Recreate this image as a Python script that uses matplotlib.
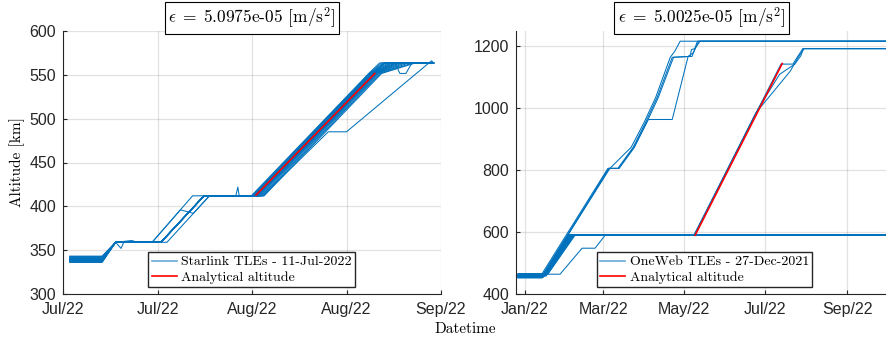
# plot.py: Starlink / OneWeb altitude history vs analytical altitude
from datetime import datetime, timedelta
import matplotlib.pyplot as plt
import matplotlib.dates as mdates
from matplotlib.lines import Line2D

plt.rcParams['mathtext.fontset'] = 'cm'

# ---------------- Starlink (days since 11-Jul-2022, altitude km) ----------------
sl_t0 = datetime(2022, 7, 11)
sl_eps = '5.0975e-05'
sl_label = 'Starlink TLEs - 11-Jul-2022'

# main group: common early path, then climb from 412 km
sl_alt0 = [336, 337, 337, 338, 338, 339, 339, 340, 340, 341, 341, 342, 343, 337, 339, 341]
sl_climb_day = [27.9, 28.0, 28.1, 28.2, 28.3, 28.4, 28.5, 28.6, 28.8, 28.9, 29.0, 29.2, 29.4, 29.6, 29.8, 28.7]
sl_top_day = [45.3, 45.4, 45.5, 45.6, 45.7, 45.8, 45.9, 46.0, 46.2, 46.3, 46.4, 46.6, 46.8, 47.0, 47.2, 46.1]
sl_final_day = [46.9, 47.2, 47.5, 47.8, 48.1, 48.4, 48.7, 49.1, 49.5, 49.9, 50.3, 50.7, 51.2, 51.8, 52.2, 49.3]
sl_early_days = [1.0, 5.8, 7.8, 14.5, 20.9]
sl_early_alt = [None, None, 359, 359, 412]
sl_hold_alt = 412
sl_top_alt = 551.6
sl_final_alt = 563.5
sl_end_day = 54.9

# odd satellites, drawn as they are
sl_extra = [
    ([1.0, 5.8, 7.8, 13.2, 19.2, 28.5, 46.1, 47.5, 54.9],
     [343, 343, 359, 359, 412, 412, 551.6, 563.5, 563.5]),
    ([1.0, 5.8, 7.8, 15.4, 21.7, 29.0, 46.6, 48.5, 54.9],
     [338, 338, 359, 359, 412, 412, 551.6, 563.5, 563.5]),
    ([1.0, 5.8, 7.8, 8.6, 9.0, 13.2, 17.4, 19.3, 21.7, 28.7, 46.3, 49.2, 49.9, 50.8, 51.7, 54.9],
     [340, 340, 359, 352, 359, 359, 396, 392, 412, 412, 551.6, 563.5, 551.6, 551.6, 563.5, 563.5]),
    ([1.0, 5.8, 7.8, 14.5, 20.9, 29.6, 39.3, 42.0, 54.2, 54.6, 54.9],
     [339, 339, 359, 359, 412, 412, 485, 485, 563.5, 566, 563.5]),
    ([1.0, 5.8, 7.8, 10.2, 11.0, 14.5, 20.9, 25.6, 25.9, 26.1, 28.4, 46.0, 47.6, 54.9],
     [338, 338, 359, 361, 359, 359, 412, 412, 422, 412, 412, 551.6, 563.5, 563.5]),
]
sl_ana_days = [28.6, 46.2]
sl_ana_alt = [412.9, 551.6]
sl_ticks = [datetime(2022, 7, 11), datetime(2022, 7, 25), datetime(2022, 8, 8),
            datetime(2022, 8, 22), datetime(2022, 9, 5)]

# ---------------- OneWeb (days since 1-Jan-2022, altitude km) ----------------
ow_t0 = datetime(2022, 1, 1)
ow_eps = '5.0025e-05'
ow_label = 'OneWeb TLEs - 27-Dec-2021'
ow_start_day = -5.3

# satellites that stop at 590 km
ow_alt0 = [452, 453, 454, 455, 456, 457, 458, 459, 460, 461, 462, 464, 466, 455, 458, 463]
ow_leave_day = [12.8, 13.1, 13.4, 13.7, 14.0, 14.3, 14.6, 14.9, 15.2, 15.6, 16.0, 16.5, 17.4, 13.2, 15.8, 16.9]
ow_reach_day = [32.5, 32.8, 33.1, 33.5, 33.9, 34.3, 34.7, 35.1, 35.5, 35.9, 36.3, 36.8, 37.7, 33.0, 36.0, 37.2]
ow_park_alt = 590
ow_end_day = 279

ow_extra = [
    # up to 1217 km
    ([-5.3, 12.5, 63.0, 70.0, 81.5, 90.6, 99.6, 111.0, 124.5, 125.5, 128.0, 132.0, 279],
     [455, 455, 806, 806, 874, 952, 1035, 1165, 1168, 1190, 1193, 1217, 1217]),
    ([-5.3, 12.0, 62.5, 64.0, 80.0, 89.5, 98.5, 109.5, 113.0, 117.0, 279],
     [460, 460, 806, 806, 874, 952, 1035, 1165, 1185, 1217, 1217]),
    ([-5.3, 13.0, 63.5, 70.5, 82.0, 93.0, 111.0, 123.0, 127.0, 131.0, 279],
     [457, 457, 806, 806, 874, 964, 964, 1168, 1180, 1217, 1217]),
    ([-5.3, 13.2, 64.0, 71.0, 82.5, 91.5, 100.5, 112.0, 126.0, 130.0, 279],
     [462, 462, 806, 806, 874, 952, 1035, 1165, 1168, 1217, 1217]),
    # 590 km, then up to 1193 km
    ([-5.3, 13.0, 32.8, 127.3, 193.0, 202.0, 204.5, 209.5, 279],
     [458, 458, 590, 590, 1143, 1143, 1160, 1193, 1193]),
    ([-5.3, 13.5, 33.3, 127.8, 174.0, 200.0, 206.0, 210.5, 279],
     [455, 455, 590, 590, 985, 1120, 1165, 1193, 1193]),
    ([-5.3, 14.0, 34.0, 127.6, 176.0, 192.0, 203.5, 208.0, 210.0, 279],
     [461, 461, 590, 590, 1000, 1110, 1143, 1170, 1193, 1193]),
    # slow one
    ([-5.3, 26.4, 43.0, 52.8, 60.4, 279],
     [464, 464, 548, 548, 590, 590]),
]
ow_ana_days = [128.3, 194.0]
ow_ana_alt = [590, 1145]
ow_ticks = [datetime(2022, m, 1) for m in (1, 3, 5, 7, 9)]

blue = '#0072BD'
grey = '#262626'
serif = 'cmr10'
sans = ['Liberation Sans', 'DejaVu Sans']
lw = 0.75


def to_dates(t0, days):
    return [t0 + timedelta(days=d) for d in days]


def style(ax, ticks, ylim, yticks, xlim, label, bbox_x):
    ax.set_xlim(xlim)
    ax.set_ylim(ylim)
    ax.set_xticks(ticks)
    ax.set_yticks(yticks)
    ax.xaxis.set_major_formatter(mdates.DateFormatter('%b/%y'))
    ax.grid(True, color=grey, alpha=0.13, lw=0.9)
    ax.set_axisbelow(True)
    for s in ('top', 'right'):
        ax.spines[s].set_visible(False)
    for s in ('left', 'bottom'):
        ax.spines[s].set_color(grey)
        ax.spines[s].set_linewidth(0.8)
    ax.tick_params(direction='in', length=3, colors=grey, labelsize=11.5)
    ax.tick_params(axis='x', pad=6)
    ax.tick_params(axis='y', pad=5)
    for t in ax.get_xticklabels() + ax.get_yticklabels():
        t.set_family(sans)
    handles = [Line2D([], [], color=blue, lw=1.2, alpha=0.6),
               Line2D([], [], color='red', lw=1.2)]
    ax.legend(handles, [label, 'Analytical altitude'], loc='lower left',
              bbox_to_anchor=(bbox_x, 0.025), prop={'family': serif, 'size': 10},
              fancybox=False, edgecolor=grey, framealpha=1, borderpad=0.25,
              labelspacing=0.2, handlelength=1.8, handletextpad=0.3, borderaxespad=0)


def set_title(ax, eps):
    ax.set_title(r'$\epsilon\;=\;$' + eps + r' [m/s$^2$]', family=serif, fontsize=12.5, pad=6,
                 bbox=dict(facecolor='white', edgecolor='black', boxstyle='square,pad=0.2', lw=0.8))


fig = plt.figure(figsize=(8.87, 3.41), dpi=100)
ax1 = fig.add_axes([63 / 887, 47 / 341, 378 / 887, 263 / 341])
ax2 = fig.add_axes([516 / 887, 47 / 341, 371 / 887, 263 / 341])

# Starlink
for a0, c, tp, fd in zip(sl_alt0, sl_climb_day, sl_top_day, sl_final_day):
    days = sl_early_days + [c, tp, fd, sl_end_day]
    alts = [a0, a0] + sl_early_alt[2:] + [sl_hold_alt, sl_top_alt, sl_final_alt, sl_final_alt]
    ax1.plot(to_dates(sl_t0, days), alts, color=blue, lw=lw)
for days, alts in sl_extra:
    ax1.plot(to_dates(sl_t0, days), alts, color=blue, lw=lw)
ax1.plot(to_dates(sl_t0, sl_ana_days), sl_ana_alt, color='red', lw=1.2)
style(ax1, sl_ticks, (300, 600), range(300, 601, 50), (sl_ticks[0], sl_ticks[-1]), sl_label, 0.225)
set_title(ax1, sl_eps)
ax1.set_ylabel('Altitude [km]', family=serif, fontsize=11, labelpad=3)

# OneWeb
for a0, lv, rc in zip(ow_alt0, ow_leave_day, ow_reach_day):
    days = [ow_start_day, lv, rc, ow_end_day]
    alts = [a0, a0, ow_park_alt, ow_park_alt]
    ax2.plot(to_dates(ow_t0, days), alts, color=blue, lw=lw)
for days, alts in ow_extra:
    ax2.plot(to_dates(ow_t0, days), alts, color=blue, lw=lw)
ax2.plot(to_dates(ow_t0, ow_ana_days), ow_ana_alt, color='red', lw=1.2)
style(ax2, ow_ticks, (400, 1250), range(400, 1201, 200),
      (datetime(2021, 12, 25, 4), datetime(2022, 10, 1)), ow_label, 0.218)
set_title(ax2, ow_eps)

fig.text(0.525, 0.035, 'Datetime', family=serif, fontsize=11, ha='center', va='center')

fig.savefig('out.png', dpi=100)
